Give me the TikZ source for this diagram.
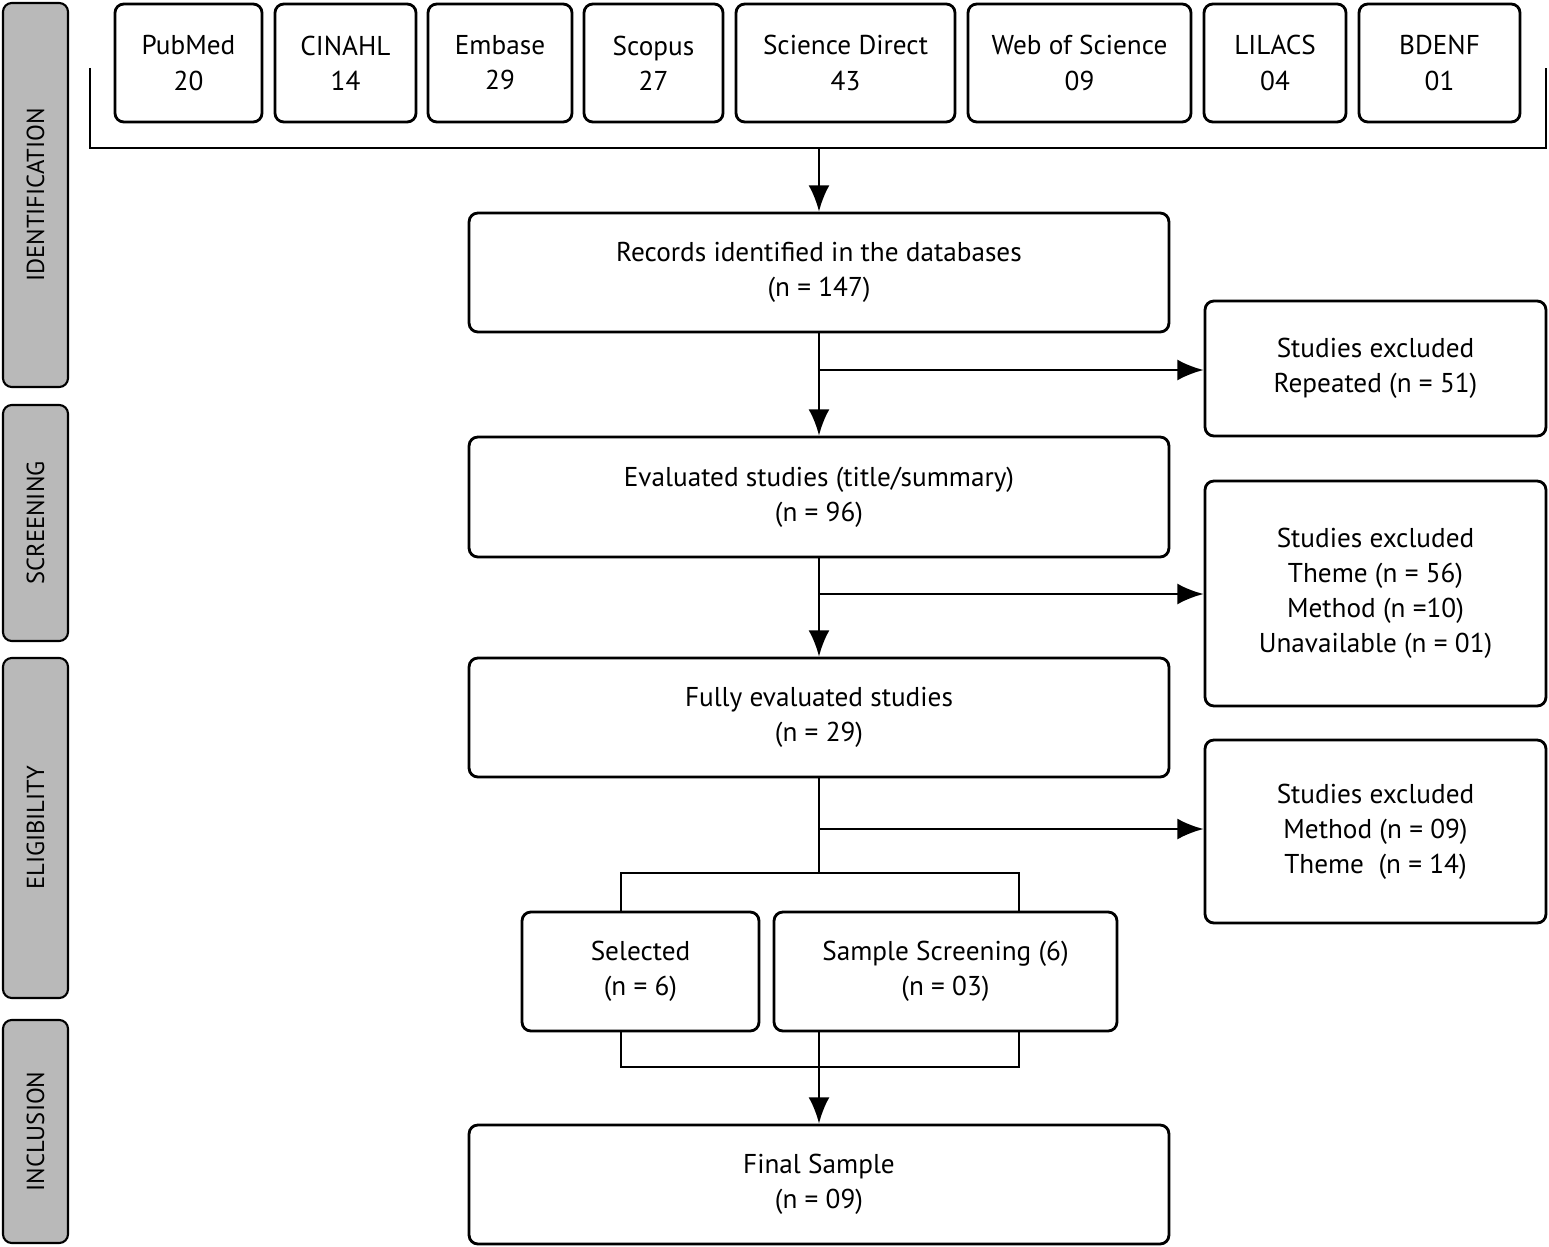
\documentclass[tikz,border=0pt]{standalone}
\usepackage{fontspec}
\setmainfont{PT Sans}
\usetikzlibrary{positioning,arrows.meta}
\begin{document}
\begin{tikzpicture}[x=0.02cm,y=-0.02cm,line width=1.6pt,
box/.style={draw, rounded corners=5pt, align=center, inner sep=0pt,
                font=\fontsize{15.5}{20}\selectfont},
stage/.style={draw, rounded corners=5pt, fill=gray!55, line width=1.2pt,
                font=\fontsize{14}{16}\selectfont},
arr/.style={-{Latex[length=15pt,width=12pt]}}]
\useasboundingbox (0,0) rectangle (1549,1247);
% stages
\foreach \n/\ya/\yb/\t in {id/3/387/IDENTIFICATION, sc/405/641/SCREENING,
    el/658/998/ELIGIBILITY, in/1020/1243/INCLUSION}
  { \draw[stage] (3,\ya) rectangle (68,\yb);
    \node[rotate=90, font=\fontsize{14}{16}\selectfont] (\n) at (35.5,{(\ya+\yb)/2}) {\t}; }
% databases
\foreach \n/\xa/\xb/\t/\v in {pm/115/262/PubMed/20, ci/275/416/CINAHL/14,
    em/428/572/Embase/29, sp/584/723/Scopus/27, sd/736/955/Science Direct/43,
    ws/968/1191/Web of Science/09, li/1204/1346/LILACS/04, bd/1359/1520/BDENF/01}
  \node[box, minimum width={(\xb-\xa)*0.02cm}, minimum height=2.36cm, fill=white]
    (\n) at ({(\xa+\xb)/2},63) {\t\\\v};
\draw (90,68) |- (1546,148) -- (1546,68);
% main column
\node[box, minimum width=14cm, minimum height=2.38cm] (rec) at (819,272.5)
  {Records identified in the databases\\(n = 147)};
\node[box, minimum width=14cm, minimum height=2.4cm] (eva) at (819,497)
  {Evaluated studies (title/summary)\\(n = 96)};
\node[box, minimum width=14cm, minimum height=2.38cm] (ful) at (819,717.5)
  {Fully evaluated studies\\(n = 29)};
\node[box, minimum width=4.74cm, minimum height=2.38cm] (sel) at (640.5,971.5)
  {Selected\\(n = 6)};
\node[box, minimum width=6.86cm, minimum height=2.38cm] (sam) at (945.5,971.5)
  {Sample Screening (6)\\(n = 03)};
\node[box, minimum width=14cm, minimum height=2.38cm] (fin) at (819,1184.5)
  {Final Sample\\(n = 09)};
% excluded
\node[box, minimum width=6.82cm, minimum height=2.7cm] (ex1) at (1375.5,368.5)
  {Studies excluded\\Repeated (n = 51)};
\node[box, minimum width=6.82cm, minimum height=4.5cm] (ex2) at (1375.5,593.5)
  {Studies excluded\\Theme (n = 56)\\Method (n =10)\\Unavailable (n = 01)};
\node[box, minimum width=6.82cm, minimum height=3.66cm] (ex3) at (1375.5,831.5)
  {Studies excluded\\Method (n = 09)\\Theme\ \ (n = 14)};
% connectors
\coordinate (top) at (819,148);
\draw[arr] (top) -- (rec);
\draw[arr] (rec) -- (eva);
\draw[arr] (eva) -- (ful);
\draw[arr] (819,370) -- (ex1.west |- 0,370);
\draw[arr] (819,594) -- (ex2.west |- 0,594);
\draw[arr] (819,829) -- (ex3.west |- 0,829);
\coordinate (sp) at (819,873);
\draw (ful) -- (sp);
\draw (sel.north -| 621,0) |- (sp) -| (sam.north -| 1019,0);
\coordinate (jn) at (819,1067);
\draw (sel.south -| 621,0) |- (jn) -| (sam.south -| 1019,0);
\draw[arr] (sam.south -| 819,0) -- (fin);
\end{tikzpicture}
\end{document}
